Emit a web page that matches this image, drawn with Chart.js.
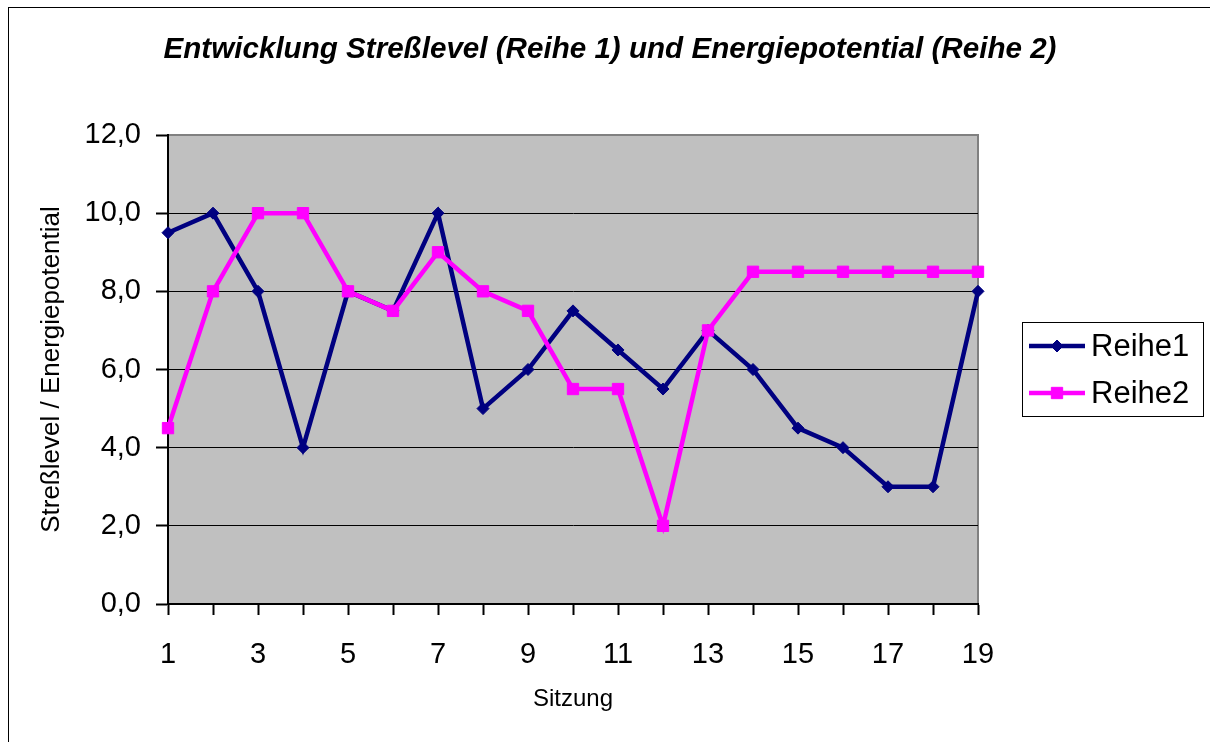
<!DOCTYPE html>
<html>
<head>
<meta charset="utf-8">
<script src="https://cdn.jsdelivr.net/npm/chart.js@4/dist/chart.umd.min.js"></script>
<style>
  html, body { margin: 0; padding: 0; background: #ffffff; }
  #wrap { width: 1210px; height: 742px; position: relative; }
</style>
</head>
<body>
<div id="wrap"><canvas id="c" width="1210" height="742"></canvas></div>
<script>
const chartTitle = 'Entwicklung Streßlevel (Reihe 1) und Energiepotential (Reihe 2)';
const xTitle = 'Sitzung';
const yTitle = 'Streßlevel / Energiepotential';
const categories = ['1','2','3','4','5','6','7','8','9','10','11','12','13','14','15','16','17','18','19'];
const shownXLabels = ['1','3','5','7','9','11','13','15','17','19'];
const yTickLabels = ['0,0','2,0','4,0','6,0','8,0','10,0','12,0'];
const reihe1 = [9.5, 10, 8, 4, 8, 7.5, 10, 5, 6, 7.5, 6.5, 5.5, 7, 6, 4.5, 4, 3, 3, 8];
const reihe2 = [4.5, 8, 10, 10, 8, 7.5, 9, 8, 7.5, 5.5, 5.5, 2, 7, 8.5, 8.5, 8.5, 8.5, 8.5, 8.5];
const seriesNames = ['Reihe1', 'Reihe2'];

const FONT = '"Liberation Sans", Arial, Helvetica, sans-serif';

const decorPlugin = {
  id: 'decor',
  beforeDraw(chart) {
    const ctx = chart.ctx;
    const a = chart.chartArea;
    ctx.save();
    ctx.fillStyle = '#ffffff';
    ctx.fillRect(0, 0, chart.width, chart.height);
    // outer frame
    ctx.strokeStyle = '#000000';
    ctx.lineWidth = 1;
    ctx.strokeRect(8.5, 7.5, 1400, 900);
    // plot area
    ctx.fillStyle = '#C0C0C0';
    ctx.fillRect(a.left, a.top, a.right - a.left, a.bottom - a.top);
    ctx.strokeStyle = '#808080';
    ctx.lineWidth = 2;
    ctx.beginPath();
    ctx.moveTo(a.left, a.top);
    ctx.lineTo(a.right, a.top);
    ctx.lineTo(a.right, a.bottom);
    ctx.stroke();
    // title
    ctx.fillStyle = '#000000';
    ctx.font = 'italic bold 29.6px ' + FONT;
    ctx.textAlign = 'center';
    ctx.textBaseline = 'middle';
    ctx.fillText(chartTitle, 610, 50);
    ctx.restore();
  },
  afterDraw(chart) {
    const ctx = chart.ctx;
    ctx.save();
    ctx.strokeStyle = '#000000';
    ctx.lineWidth = 1;
    ctx.strokeRect(1022.5, 322.5, 181, 94);
    const rows = [346, 393];
    chart.data.datasets.forEach((ds, i) => {
      const y = rows[i];
      ctx.strokeStyle = ds.borderColor;
      ctx.lineWidth = ds.borderWidth;
      ctx.beginPath();
      ctx.moveTo(1029, y);
      ctx.lineTo(1085, y);
      ctx.stroke();
      ctx.fillStyle = ds.backgroundColor;
      ctx.strokeStyle = ds.borderColor;
      ctx.lineWidth = 1;
      Chart.helpers.drawPoint(ctx, {pointStyle: ds.pointStyle, radius: ds.pointRadius, rotation: 0, borderWidth: 1}, 1057, y);
      ctx.fillStyle = '#000000';
      ctx.font = '31px ' + FONT;
      ctx.textAlign = 'left';
      ctx.textBaseline = 'middle';
      ctx.fillText(seriesNames[i], 1091, y + 1);
    });
    ctx.restore();
  }
};

new Chart(document.getElementById('c'), {
  type: 'line',
  data: {
    labels: categories,
    datasets: [
      {
        label: seriesNames[0],
        data: reihe1,
        borderColor: '#000080',
        backgroundColor: '#000080',
        borderWidth: 4.5,
        pointStyle: 'rectRot',
        pointRadius: 6,
        pointBorderWidth: 1,
        tension: 0,
        clip: false,
        order: 1
      },
      {
        label: seriesNames[1],
        data: reihe2,
        borderColor: '#FF00FF',
        backgroundColor: '#FF00FF',
        borderWidth: 4.5,
        pointStyle: 'rect',
        pointRadius: 8,
        pointBorderWidth: 1,
        tension: 0,
        clip: false,
        order: 0
      }
    ]
  },
  options: {
    responsive: false,
    animation: false,
    devicePixelRatio: 1,
    layout: { padding: { top: 135, right: 232, bottom: 0, left: 0 } },
    plugins: {
      legend: { display: false },
      title: { display: false },
      tooltip: { enabled: false }
    },
    scales: {
      x: {
        type: 'category',
        offset: false,
        afterFit(scale) { scale.height = 138; },
        grid: {
          display: true,
          drawOnChartArea: false,
          drawTicks: true,
          tickLength: 11,
          tickWidth: 2,
          tickColor: '#000000'
        },
        border: { display: true, color: '#000000', width: 2 },
        ticks: {
          autoSkip: false,
          maxRotation: 0,
          padding: 23,
          color: '#000000',
          font: { family: FONT, size: 29 },
          callback(value, index) {
            const lab = categories[index];
            return shownXLabels.includes(lab) ? lab : '';
          }
        },
        title: {
          display: true,
          text: xTitle,
          color: '#000000',
          font: { family: FONT, size: 24 },
          padding: { top: 0, bottom: 28 }
        }
      },
      y: {
        min: 0,
        max: 12,
        afterFit(scale) { scale.width = 168; },
        grid: {
          display: true,
          drawOnChartArea: true,
          color(ctx) { return (ctx.tick && ctx.tick.value === 12) ? 'rgba(0,0,0,0)' : '#000000'; },
          lineWidth: 1,
          drawTicks: true,
          tickLength: 12,
          tickWidth: 2,
          tickColor: '#000000'
        },
        border: { display: true, color: '#000000', width: 2 },
        ticks: {
          stepSize: 2,
          padding: 15,
          color: '#000000',
          font: { family: FONT, size: 29 },
          callback(value) { return yTickLabels[Math.round(value / 2)]; }
        },
        title: {
          display: true,
          text: yTitle,
          color: '#000000',
          font: { family: FONT, size: 26 },
          padding: { top: 36, bottom: 0 }
        }
      }
    }
  },
  plugins: [decorPlugin]
});
</script>
</body>
</html>
